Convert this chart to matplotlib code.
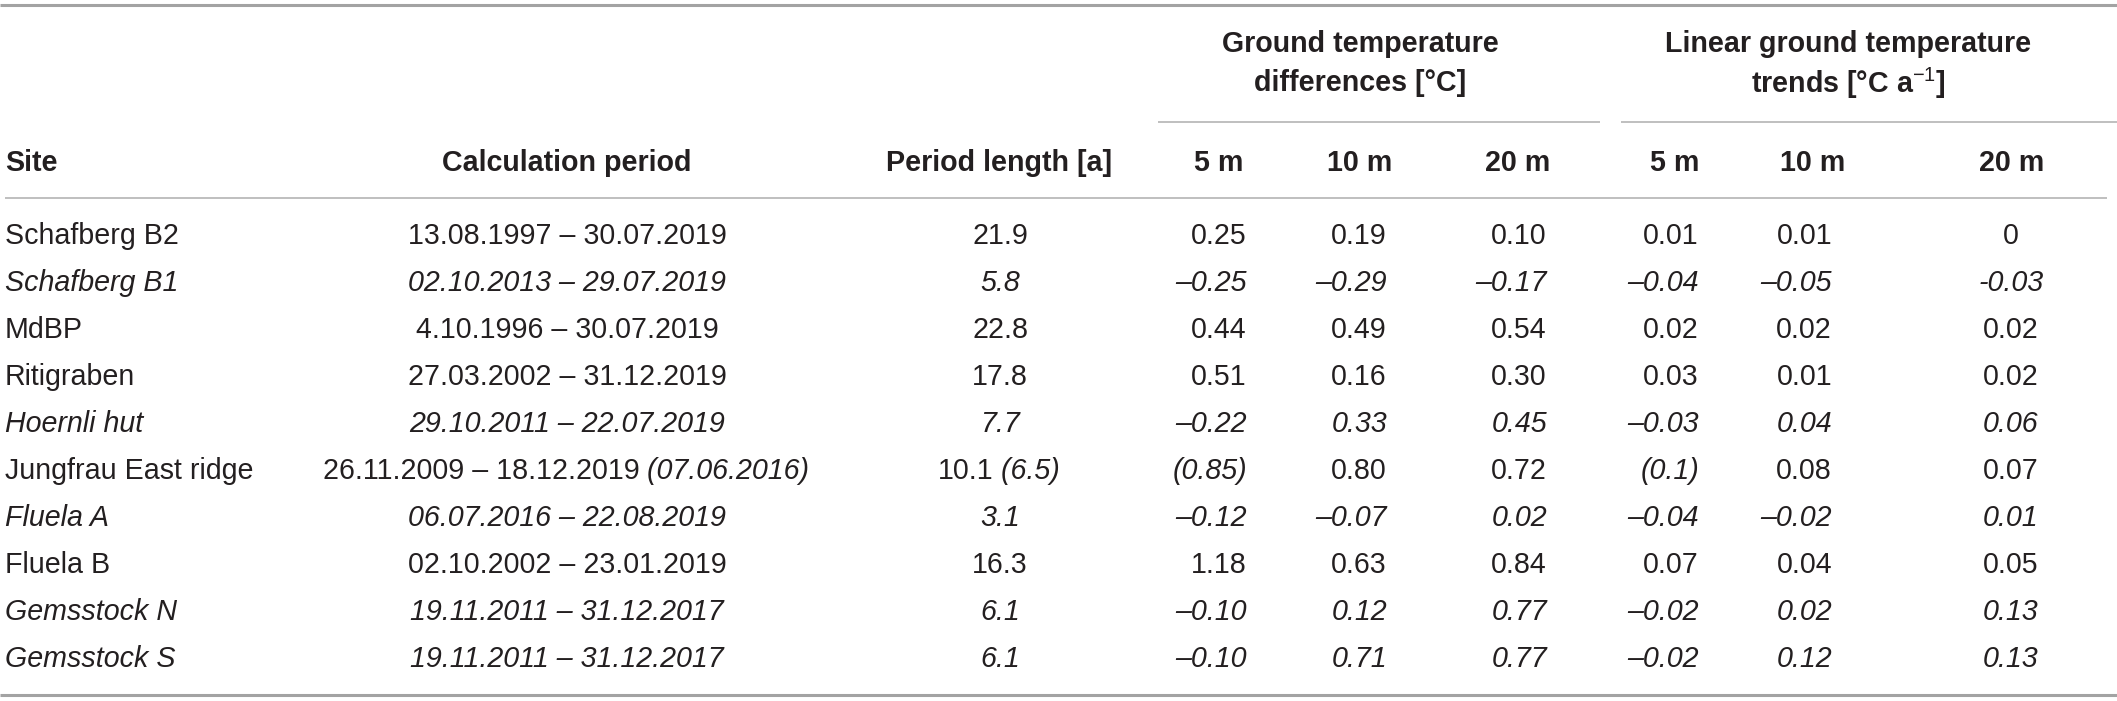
import matplotlib
matplotlib.use("Agg")
import matplotlib.pyplot as plt

sites = ["Schafberg B2", "Schafberg B1", "MdBP", "Ritigraben", "Hoernli hut",
         "Jungfrau East ridge", "Fluela A", "Fluela B", "Gemsstock N", "Gemsstock S"]
italic_rows = [False, True, False, False, True, False, True, False, True, True]
periods = ["13.08.1997 – 30.07.2019", "02.10.2013 – 29.07.2019", "4.10.1996 – 30.07.2019",
           "27.03.2002 – 31.12.2019", "29.10.2011 – 22.07.2019", "26.11.2009 – 18.12.2019",
           "06.07.2016 – 22.08.2019", "02.10.2002 – 23.01.2019", "19.11.2011 – 31.12.2017",
           "19.11.2011 – 31.12.2017"]
period_extra = ["", "", "", "", "", " (07.06.2016)", "", "", "", ""]
lengths = ["21.9", "5.8", "22.8", "17.8", "7.7", "10.1", "3.1", "16.3", "6.1", "6.1"]
length_extra = ["", "", "", "", "", " (6.5)", "", "", "", ""]
diff_5 = ["0.25", "–0.25", "0.44", "0.51", "–0.22", "(0.85)", "–0.12", "1.18", "–0.10", "–0.10"]
diff_10 = ["0.19", "–0.29", "0.49", "0.16", "0.33", "0.80", "–0.07", "0.63", "0.12", "0.71"]
diff_20 = ["0.10", "–0.17", "0.54", "0.30", "0.45", "0.72", "0.02", "0.84", "0.77", "0.77"]
trend_5 = ["0.01", "–0.04", "0.02", "0.03", "–0.03", "(0.1)", "–0.04", "0.07", "–0.02", "–0.02"]
trend_10 = ["0.01", "–0.05", "0.02", "0.01", "0.04", "0.08", "–0.02", "0.04", "0.02", "0.12"]
trend_20 = ["0", "-0.03", "0.02", "0.02", "0.06", "0.07", "0.01", "0.05", "0.13", "0.13"]

col_headers = ["Site", "Calculation period", "Period length [a]", "5 m", "10 m", "20 m", "5 m", "10 m", "20 m"]
group_line1 = ["Ground temperature", "Linear ground temperature"]
group_line2 = ["differences [°C]", "trends [°C a$^{-1}$]"]

W, H = 2117, 701
FONT = "Liberation Sans"
plt.rcParams["font.family"] = [FONT, "DejaVu Sans"]
plt.rcParams["mathtext.fontset"] = "custom"
plt.rcParams["mathtext.rm"] = FONT
plt.rcParams["mathtext.it"] = FONT + ":italic"
plt.rcParams["mathtext.bf"] = FONT + ":bold"

fig = plt.figure(figsize=(W / 100, H / 100), dpi=100)
ax = fig.add_axes([0, 0, 1, 1])
ax.set_xlim(0, W)
ax.set_ylim(H, 0)
ax.axis("off")

FS = 20.6
TXT = "#231f20"
THICK = "#a3a3a3"
THIN = "#b4b4b4"

# rules
ax.plot([0, W], [5, 5], color=THICK, lw=2.2, solid_capstyle="butt")
ax.plot([0, W], [695, 695], color=THICK, lw=2.2, solid_capstyle="butt")
ax.plot([5, W - 10], [198, 198], color=THIN, lw=1.2, solid_capstyle="butt")
ax.plot([1158, 1600], [122, 122], color=THIN, lw=1.2, solid_capstyle="butt")
ax.plot([1621, W], [122, 122], color=THIN, lw=1.2, solid_capstyle="butt")

# group headers
gx = [1360, 1848]
for x, l1, l2 in zip(gx, group_line1, group_line2):
    ax.text(x, 44, l1, ha="center", va="center", fontsize=FS, fontweight="bold", color=TXT)
    ax.text(x, 83, l2, ha="center", va="center", fontsize=FS, fontweight="bold", color=TXT)

# column headers
hx = [5, 567, 999, 1219, 1360, 1518, 1675, 1813, 2012]
hha = ["left"] + ["center"] * 8
for x, ha, t in zip(hx, hha, col_headers):
    ax.text(x, 163, t, ha=ha, va="center", fontsize=FS, fontweight="bold", color=TXT)

y0, dy = 236, 47.0
num_cols = [diff_5, diff_10, diff_20, trend_5, trend_10, trend_20]
num_x = [1247, 1387, 1547, 1699, 1832, 2011]
num_ha = ["right", "right", "right", "right", "right", "center"]

fig.canvas.draw()
renderer = fig.canvas.get_renderer()


def two_part(xc, y, a, b, st):
    t1 = ax.text(0, y, a, ha="left", va="center", fontsize=FS, style=st, color=TXT)
    t2 = ax.text(0, y, b, ha="left", va="center", fontsize=FS, style="italic", color=TXT)
    w1 = t1.get_window_extent(renderer).width
    w2 = t2.get_window_extent(renderer).width
    start = xc - (w1 + w2) / 2
    t1.set_x(start)
    t2.set_x(start + w1)


for i in range(len(sites)):
    y = y0 + i * dy
    st = "italic" if italic_rows[i] else "normal"
    ax.text(5, y, sites[i], ha="left", va="center", fontsize=FS, style=st, color=TXT)
    if period_extra[i]:
        two_part(566, y, periods[i], period_extra[i], st)
    else:
        ax.text(567, y, periods[i], ha="center", va="center", fontsize=FS, style=st, color=TXT)
    if length_extra[i]:
        two_part(999, y, lengths[i], length_extra[i], st)
    else:
        ax.text(1000, y, lengths[i], ha="center", va="center", fontsize=FS, style=st, color=TXT)
    for col, x, ha in zip(num_cols, num_x, num_ha):
        v = col[i]
        s = "italic" if v.startswith("(") else st
        ax.text(x, y, v, ha=ha, va="center", fontsize=FS, style=s, color=TXT)

fig.savefig("out.png", dpi=100, facecolor="white")
